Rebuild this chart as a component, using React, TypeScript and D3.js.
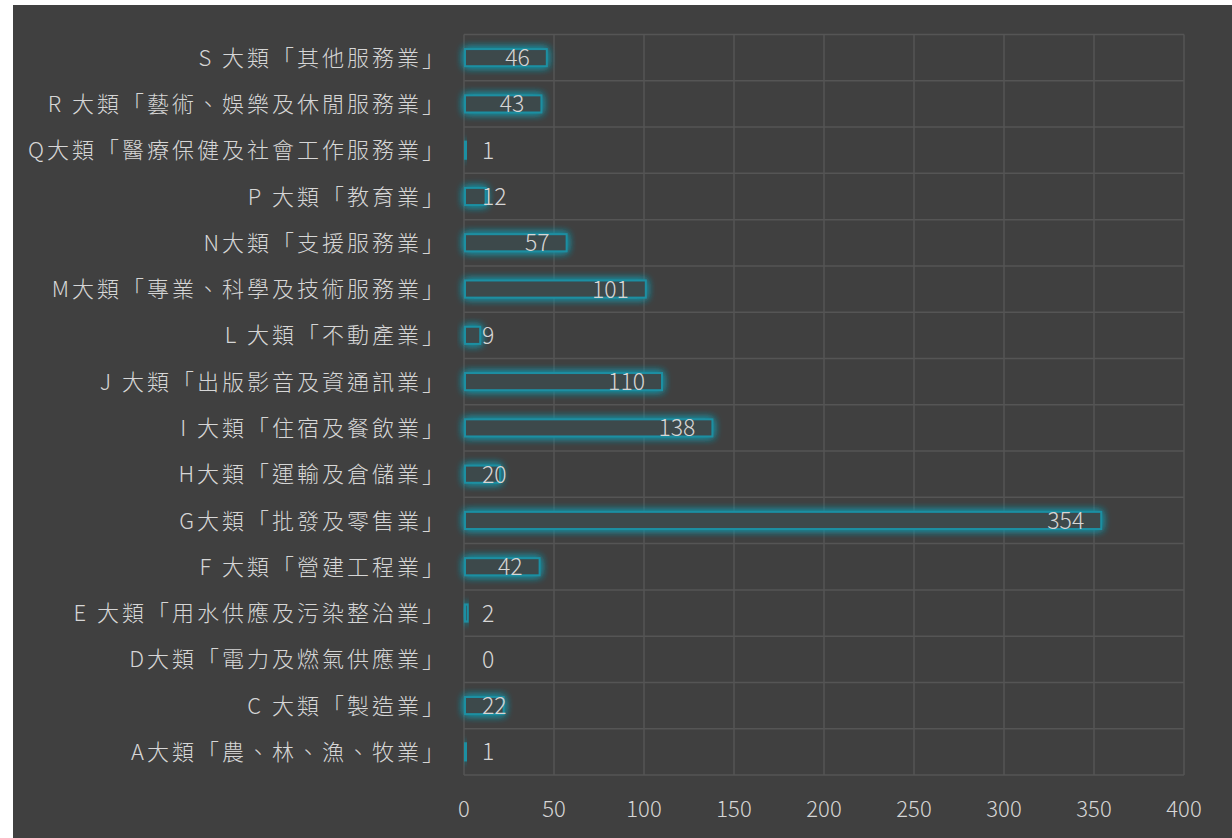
import React from "react";
import * as d3 from "d3";

const categories: string[] = [
  "S 大類「其他服務業」",
  "R 大類「藝術、娛樂及休閒服務業」",
  "Q大類「醫療保健及社會工作服務業」",
  "P 大類「教育業」",
  "N大類「支援服務業」",
  "M大類「專業、科學及技術服務業」",
  "L 大類「不動產業」",
  "J 大類「出版影音及資通訊業」",
  "I 大類「住宿及餐飲業」",
  "H大類「運輸及倉儲業」",
  "G大類「批發及零售業」",
  "F 大類「營建工程業」",
  "E 大類「用水供應及污染整治業」",
  "D大類「電力及燃氣供應業」",
  "C 大類「製造業」",
  "A大類「農、林、漁、牧業」",
];
const values: number[] = [46, 43, 1, 12, 57, 101, 9, 110, 138, 20, 354, 42, 2, 0, 22, 1];
const xTicks: number[] = [0, 50, 100, 150, 200, 250, 300, 350, 400];

const W = 1219;
const H = 833;
const OX = 13; // svg offset in page
const OY = 5;
const plotLeft = 464 - OX;
const plotRight = 1184 - OX;
const plotTop = 34.5 - OY;
const plotBottom = 775 - OY;

const FONT = "'Noto Sans CJK TC', 'Noto Sans', sans-serif";
const TEXT = "#d6d6d6";
const GRID = "#555555";
const TEAL = "#1c8fa2";

export default function App() {
  const x = d3.scaleLinear().domain([0, 400]).range([plotLeft, plotRight]);
  const y = d3
    .scaleBand<string>()
    .domain(categories)
    .range([plotTop, plotBottom])
    .paddingInner(0.63)
    .paddingOuter(0.315);
  const rowY = d3.scaleBand<string>().domain(categories).range([plotTop, plotBottom]);
  const bh = y.bandwidth();
  const digitW = 12.3;

  return (
    <svg
      width={W}
      height={H}
      style={{ position: "absolute", left: OX, top: OY, display: "block" }}
    >
      <defs>
        <filter id="glow" x="-50%" y="-150%" width="200%" height="400%">
          <feGaussianBlur in="SourceAlpha" stdDeviation="4.5" result="blur" />
          <feFlood floodColor={TEAL} floodOpacity="1" />
          <feComposite in2="blur" operator="in" result="glowCol" />
          <feMerge>
            <feMergeNode in="glowCol" />
            <feMergeNode in="glowCol" />
            <feMergeNode in="SourceGraphic" />
          </feMerge>
        </filter>
      </defs>
      <rect x={0} y={0} width={W} height={H} fill="#404040" />
      {/* horizontal gridlines */}
      {categories.map((c) => (
        <line
          key={"h" + c}
          x1={plotLeft}
          x2={plotRight}
          y1={rowY(c)!}
          y2={rowY(c)!}
          stroke={GRID}
          strokeWidth={1.5}
        />
      ))}
      <line x1={plotLeft} x2={plotRight} y1={plotBottom} y2={plotBottom} stroke={GRID} strokeWidth={1.5} />
      {/* vertical gridlines */}
      {xTicks.map((t) => (
        <line
          key={"v" + t}
          x1={x(t)}
          x2={x(t)}
          y1={plotTop}
          y2={plotBottom}
          stroke={GRID}
          strokeWidth={1.5}
        />
      ))}
      {/* bars */}
      {categories.map((c, i) => {
        const v = values[i];
        if (v <= 0) return null;
        const w = x(v) - x(0);
        return (
          <rect
            key={"b" + c}
            x={x(0) + 1}
            y={y(c)!}
            width={Math.max(w - 1, 1.2)}
            height={bh}
            fill="#3c484c"
            stroke={TEAL}
            strokeWidth={2}
            filter="url(#glow)"
          />
        );
      })}
      {/* value labels */}
      {categories.map((c, i) => {
        const v = values[i];
        const txt = String(v);
        const tw = txt.length * digitW;
        const right = x(v) - 17;
        const left = Math.max(right - tw, 482 - OX);
        return (
          <text
            key={"l" + c}
            x={left}
            y={y(c)! + bh / 2}
            dy="0.37em"
            fill={TEXT}
            fontFamily={FONT}
            fontSize={23}
            fontWeight={300}
          >
            {txt}
          </text>
        );
      })}
      {/* category labels */}
      {categories.map((c) => (
        <text
          key={"c" + c}
          x={447 - OX}
          y={y(c)! + bh / 2}
          dy="0.37em"
          textAnchor="end"
          fill={TEXT}
          fontFamily={FONT}
          fontSize={22}
          fontWeight={300}
          letterSpacing={3}
        >
          {c}
        </text>
      ))}
      {/* x tick labels */}
      {xTicks.map((t) => (
        <text
          key={"t" + t}
          x={x(t)}
          y={809 - OY}
          dy="0.37em"
          textAnchor="middle"
          fill={TEXT}
          fontFamily={FONT}
          fontSize={22}
          fontWeight={300}
        >
          {t}
        </text>
      ))}
    </svg>
  );
}
